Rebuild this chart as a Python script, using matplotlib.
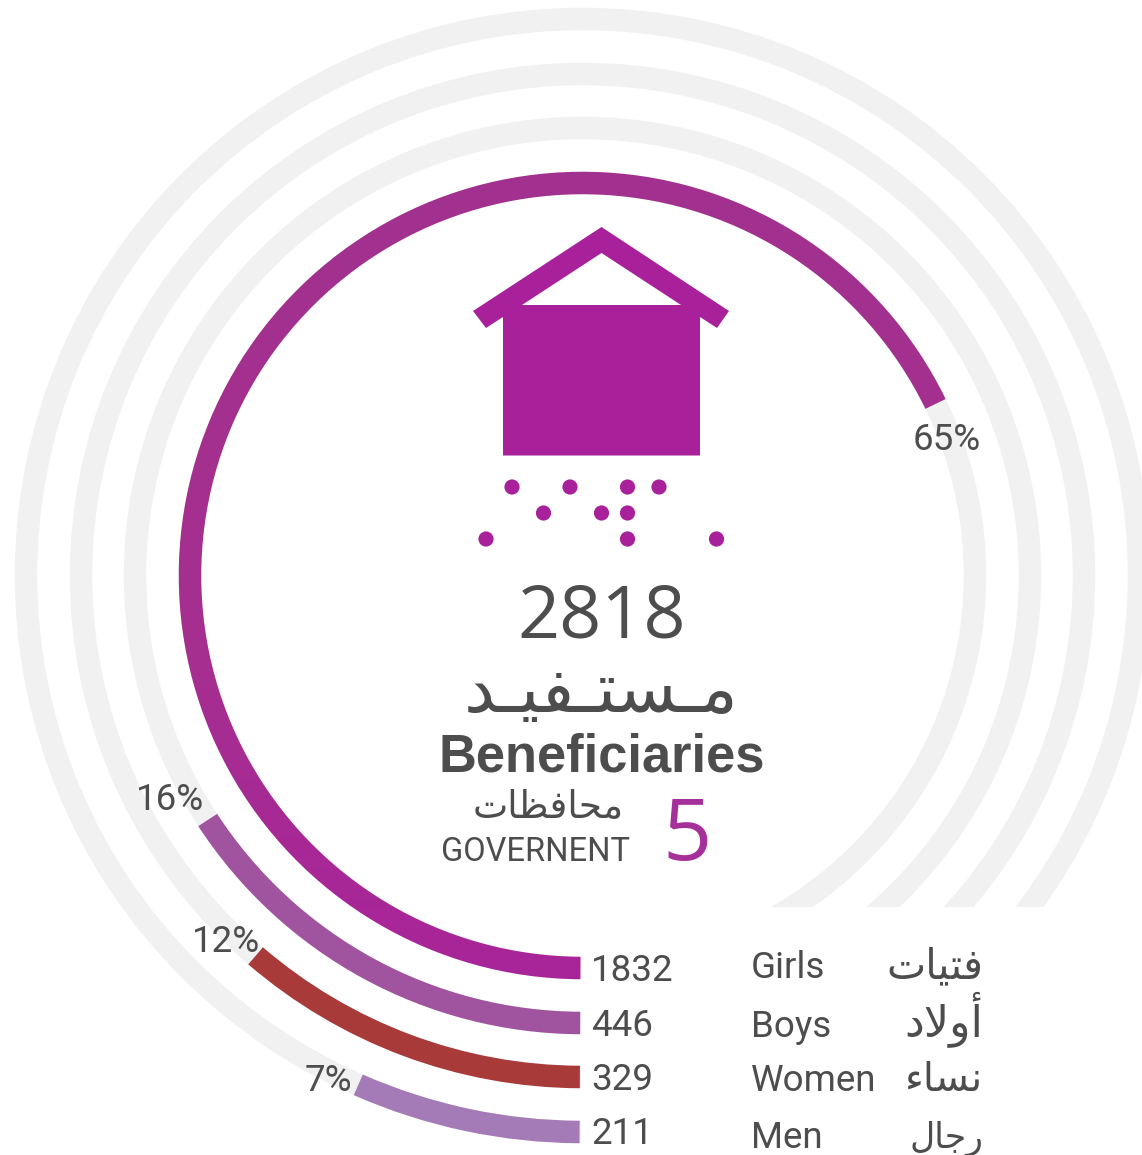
import numpy as np
import matplotlib
matplotlib.use("Agg")
import matplotlib.pyplot as plt
from matplotlib.patches import Wedge, Polygon, Circle, Rectangle
from matplotlib.colors import LinearSegmentedColormap

# ---- data ----
categories_en = ["Girls", "Boys", "Women", "Men"]
# Arabic in display-order presentation forms (matplotlib has no Arabic shaping)
categories_ar = ["\uFED3\uFE98\uFEF4\uFE8E\uFE95"[::-1],
                 "\uFE83\uFEED\uFEFB\uFEA9"[::-1],
                 "\uFEE7\uFEB4\uFE8E\uFE80"[::-1],
                 "\uFEAD\uFE9F\uFE8E\uFEDD"[::-1]]
counts = [1832, 446, 329, 211]
pct_labels = ["65%", "16%", "12%", "7%"]
arc_share = [67.8, 15.8, 11.3, 6.6]   # share of full circle as drawn
total = 2818
governorates = 5
title_ar = "\uFEE3\u0640\uFEB4\uFE98\u0640\uFED4\uFEF4\u0640\uFEAA"[::-1]
title_en = "Beneficiaries"
gov_ar = "\uFEE3\uFEA4\uFE8E\uFED3\uFEC8\uFE8E\uFE95"[::-1]
gov_en = "GOVERNENT"

# ---- style ----
TEXT = "#4D4D4D"
PURPLE = "#A9219A"
GRAY = "#F1F1F1"
colors = [None, "#A0549F", "#A83A3A", "#A47BB7"]
radii = [392.5, 447.5, 501.5, 556.5]
width = 22.5
cx, cy = 582.5, 575.5
start = 90.3

fig = plt.figure(figsize=(11.42, 11.55), dpi=100)
ax = fig.add_axes([0, 0, 1, 1])
ax.axis("off")

# gray tracks
for r in radii:
    ax.add_patch(Wedge((cx, cy), r + width / 2, 0, 360, width=width, fc=GRAY, ec="none", zorder=1))
ax.add_patch(Rectangle((581, 907), 561, 248, fc="white", ec="none", zorder=2))

# coloured arcs
grad = LinearSegmentedColormap.from_list("g", [(0, "#A2318F"), (0.6, "#A52F90"), (1, "#A9249A")])
for i, (r, s) in enumerate(zip(radii, arc_share)):
    wedge = Wedge((cx, cy), r + width / 2, start, 90 + s * 3.6, width=width,
                  fc=colors[i] or "none", ec="none", zorder=3)
    ax.add_patch(wedge)
    if colors[i] is None:
        im = ax.imshow(np.linspace(0, 1, 256)[:, None], cmap=grad, aspect="auto",
                       extent=(cx - r - width, cx + r + width, cy + r + width, cy - r - width), zorder=3)
        im.set_clip_path(wedge)

# percent labels
pct_xy = [(946.5, 440), (170, 800), (226, 942), (328, 1081)]
for t, (x, y) in zip(pct_labels, pct_xy):
    ax.text(x, y, t, family="Roboto", fontsize=26.5, color=TEXT, ha="center", va="center", zorder=4)

# counts and legend
rows_y = [981, 1036, 1090, 1144]
leg_y = [978, 1037, 1091, 1148]
ar_y = [978, 1036, 1091, 1148]
ar_sizes = [30, 32, 29, 25]
for c, y in zip(counts, rows_y):
    ax.text(591, y, str(c), family="Roboto", fontsize=26.5, color=TEXT, ha="left", va="baseline", zorder=4)
for t, y in zip(categories_en, leg_y):
    ax.text(750.5, y, t, family="Roboto", fontsize=26.5, color=TEXT, ha="left", va="baseline", zorder=4)
for t, y, fs in zip(categories_ar, ar_y, ar_sizes):
    ax.text(983, y, t, family="DejaVu Sans", fontsize=fs, color=TEXT, ha="right", va="baseline", zorder=4)

# house icon
ax.add_patch(Polygon([(601.5, 227), (729, 311), (717, 328), (700, 317), (700, 455.5), (503, 455.5),
                      (503, 317), (486, 328), (473, 311)], closed=True, fc=PURPLE, ec="none", zorder=3))
ax.add_patch(Polygon([(601.5, 253), (681, 305), (522, 305)], closed=True, fc="white", ec="none", zorder=4))
for x, y in [(512, 487), (570, 487), (627.5, 487), (659, 487), (543.5, 513), (601.5, 513),
             (627.5, 513), (486, 539), (627.5, 539), (716.5, 539)]:
    ax.add_patch(Circle((x, y), 7.6, fc=PURPLE, ec="none", zorder=3))

# centre text
ax.text(601.5, 637, str(total), family="Open Sans", fontsize=53, color=TEXT, ha="center", va="baseline", zorder=4)
ax.text(601, 712, title_ar, family="DejaVu Sans", fontsize=50, color=TEXT, ha="center", va="baseline", zorder=4)
ax.text(601.5, 771, title_en, family="Liberation Sans", weight="bold", fontsize=37.8, color=TEXT, ha="center", va="baseline", zorder=4)
ax.text(623.5, 818, gov_ar, family="DejaVu Sans", fontsize=27, color=TEXT, ha="right", va="baseline", zorder=4)
ax.text(630, 861, gov_en, family="Roboto", fontsize=23.5, color=TEXT, ha="right", va="baseline", zorder=4)
ax.text(687, 860, str(governorates), family="Open Sans", fontsize=62, color="#A5309A", ha="center", va="baseline", zorder=4)

ax.set_xlim(0, 1142)
ax.set_ylim(1155, 0)
fig.savefig("out.png", dpi=100, facecolor="white")
